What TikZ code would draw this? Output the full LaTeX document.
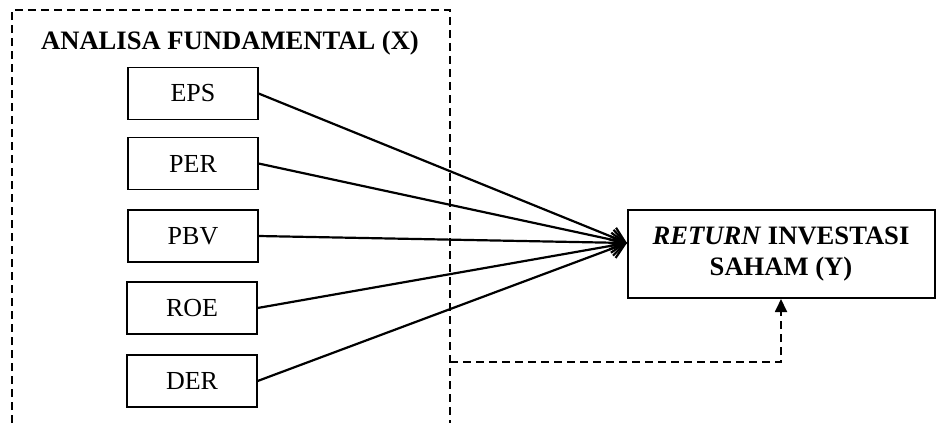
\documentclass[tikz,border=0pt]{standalone}
\usepackage{fontspec}
\setmainfont{Liberation Serif}
\usetikzlibrary{arrows.meta}

\begin{document}
\begin{tikzpicture}[x=0.5pt,y=-0.5pt]
\useasboundingbox (0,0) rectangle (936,423);

\draw[line width=0.8pt, dash pattern=on 4pt off 2.5pt] (12,423) -- (12,10) -- (450,10) -- (450,423);
\coordinate (xr) at (450,362);
\coordinate (tip) at (627,243);

\node[font=\fontsize{13.3}{15}\selectfont\bfseries] (judul) at (230,43) {ANALISA FUNDAMENTAL (X)};

\begin{scope}[every node/.style={draw,line width=0.6pt,minimum width=65pt,minimum height=26pt,inner sep=0pt,font=\fontsize{13}{14}\selectfont}]
\node (eps) at (193,93.5) {EPS};
\node (per) at (193,163.5) {PER};
\node (pbv) at (193,236) {PBV};
\node (roe) at (192,308) {ROE};
\node (der) at (192,381) {DER};
\end{scope}

\node[draw, line width=1pt, minimum width=153.5pt, minimum height=44pt, align=center, inner sep=0pt, font=\fontsize{13.3}{15.5}\selectfont\bfseries] (ret) at (781,254) {\textit{RETURN} INVESTASI\\SAHAM (Y)};

\draw[line width=1.1pt, -{Straight Barb[length=7pt,width=10pt]}] (eps.east) -- (tip);
\draw[line width=1.1pt, -{Straight Barb[length=7pt,width=10pt]}] (per.east) -- (tip);
\draw[line width=1.1pt, -{Straight Barb[length=7pt,width=10pt]}] (pbv.east) -- (tip);
\draw[line width=1.1pt, -{Straight Barb[length=7pt,width=10pt]}] (roe.east) -- (tip);
\draw[line width=1.1pt, -{Straight Barb[length=7pt,width=10pt]}] (der.east) -- (tip);

\draw[line width=0.9pt, dash pattern=on 4pt off 2.5pt, -{Triangle[length=6.5pt,width=6pt]}] (xr) -| (ret.south);

\end{tikzpicture}
\end{document}
